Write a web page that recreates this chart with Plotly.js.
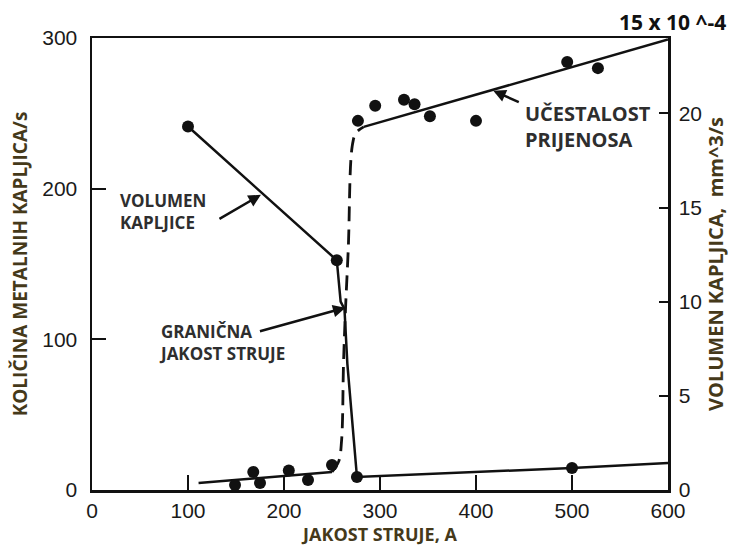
<!DOCTYPE html>
<html>
<head>
<meta charset="utf-8">
<script src="https://cdn.plot.ly/plotly-3.0.1.min.js"></script>
<style>html,body{margin:0;padding:0;background:#fff;}#chart{width:732px;height:549px;}</style>
</head>
<body>
<div id="chart"></div>
<script>
// Current (A)
const freqLowX = [111, 250];
const freqLowY = [4.6, 12];
const freqJumpX = [250, 257, 260, 262, 264, 267, 271, 275, 283];
const freqJumpY = [12, 19, 33, 84, 119, 161, 228, 237, 241];
const freqHighX = [283, 600];
const freqHighY = [241, 299];
const freqPointsX = [149, 168, 175, 205, 225, 250, 277, 295, 325, 336, 352, 400, 495, 527];
const freqPointsY = [3.3, 12, 4.6, 13, 6.6, 16.6, 245, 255, 259, 256, 248, 245, 284, 280];
// Drop volume (right axis)
const volLineX = [100, 255, 259, 263, 266, 276, 500, 600];
const volLineY = [19.3, 12.2, 10.0, 9.6, 6.7, 0.69, 1.17, 1.44];
const volPointsX = [100, 255, 276, 500];
const volPointsY = [19.3, 12.2, 0.69, 1.17];
const xTicks = [0, 100, 200, 300, 400, 500, 600];
const yTicks = [0, 100, 200, 300];
const y2Ticks = [0, 5, 10, 15, 20];

const black = '#111';
const titleColor = '#45391a';
const annColor = '#2e2e2e';
const tickFont = {family: 'Liberation Sans, Arial, sans-serif', size: 21, color: '#1a1a1a'};
const titleFont = {family: 'Open Sans, sans-serif', size: 18, color: titleColor, weight: 'bold'};
const yTitleFont = {family: 'Open Sans, sans-serif', size: 19, color: titleColor, weight: 'bold'};
const y2TitleFont = {family: 'Open Sans, sans-serif', size: 20, color: titleColor, weight: 'bold'};
const annFont = {family: 'Open Sans, sans-serif', size: 17, color: annColor, weight: 'bold'};
const bigAnnFont = {family: 'Open Sans, sans-serif', size: 20, color: annColor, weight: 'bold'};

const traces = [
  {x: freqLowX, y: freqLowY, mode: 'lines', line: {color: black, width: 2.5}, xaxis: 'x', yaxis: 'y'},
  {x: freqJumpX, y: freqJumpY, mode: 'lines', line: {color: black, width: 2.8, dash: '15px,8px', shape: 'spline'}, xaxis: 'x', yaxis: 'y'},
  {x: freqHighX, y: freqHighY, mode: 'lines', line: {color: black, width: 2.5}, xaxis: 'x', yaxis: 'y'},
  {x: freqPointsX, y: freqPointsY, mode: 'markers', marker: {color: black, size: 12}, xaxis: 'x', yaxis: 'y'},
  {x: volLineX, y: volLineY, mode: 'lines', line: {color: black, width: 2.5}, xaxis: 'x', yaxis: 'y2'},
  {x: volPointsX, y: volPointsY, mode: 'markers', marker: {color: black, size: 12}, xaxis: 'x', yaxis: 'y2'}
];

const layout = {
  width: 732, height: 549,
  margin: {l: 92, r: 64, t: 38, b: 59},
  paper_bgcolor: '#fff', plot_bgcolor: '#fff',
  showlegend: false,
  xaxis: {
    range: [0, 600], tickvals: xTicks, ticks: 'inside', ticklen: 15, tickwidth: 2, tickcolor: black,
    showline: true, linewidth: 2.5, linecolor: black, mirror: true,
    showgrid: false, zeroline: false, tickfont: tickFont,
    title: {text: 'JAKOST STRUJE, A', font: titleFont, standoff: 4}
  },
  xaxis2: {
    overlaying: 'x', side: 'top', anchor: 'y', range: [0, 600], tickvals: [100, 500],
    ticks: 'inside', ticklen: 14, tickwidth: 2, tickcolor: black, showticklabels: false,
    showline: false, showgrid: false, zeroline: false
  },
  yaxis: {
    range: [0, 300], tickvals: yTicks, ticks: 'inside', ticklen: 14, tickwidth: 2, tickcolor: black,
    showline: true, linewidth: 2.5, linecolor: black, mirror: true,
    showgrid: false, zeroline: false, tickfont: tickFont, ticklabelstandoff: 8,
    title: {text: 'KOLIČINA METALNIH KAPLJICA/s', font: yTitleFont, standoff: 10}
  },
  yaxis2: {
    overlaying: 'y', side: 'right', anchor: 'x', range: [0, 24], tickvals: y2Ticks,
    ticks: 'inside', ticklen: 9, tickwidth: 2, tickcolor: black,
    showline: true, linewidth: 2.5, linecolor: black,
    showgrid: false, zeroline: false, tickfont: tickFont, ticklabelstandoff: 4,
    title: {text: 'VOLUMEN KAPLJICA,&nbsp; mm^3/s', font: y2TitleFont, standoff: 6}
  },
  annotations: [
    {xref: 'x', yref: 'y', x: 27, y: 185, text: 'VOLUMEN<br>KAPLJICE', showarrow: false, xanchor: 'left', yanchor: 'middle', align: 'left', font: annFont},
    {xref: 'x', yref: 'y', x: 176, y: 196, text: '', showarrow: true, ax: -43, ay: 25, arrowhead: 2, arrowsize: 1, arrowwidth: 2.5, arrowcolor: black},
    {xref: 'x', yref: 'y', x: 68, y: 98, text: 'GRANIČNA<br>JAKOST STRUJE', showarrow: false, xanchor: 'left', yanchor: 'middle', align: 'left', font: annFont},
    {xref: 'x', yref: 'y', x: 264, y: 121, text: '', showarrow: true, ax: -87, ay: 24, arrowhead: 2, arrowsize: 1, arrowwidth: 2.5, arrowcolor: black},
    {xref: 'x', yref: 'y', x: 449, y: 241.5, text: 'UČESTALOST<br>PRIJENOSA', showarrow: false, xanchor: 'left', yanchor: 'middle', align: 'left', font: bigAnnFont},
    {xref: 'x', yref: 'y', x: 418, y: 265, text: '', showarrow: true, ax: 27, ay: 12, arrowhead: 2, arrowsize: 1, arrowwidth: 2.5, arrowcolor: black},
    {xref: 'paper', yref: 'paper', x: 1.008, y: 1.035, text: '15 x 10 ^-4', showarrow: false, xanchor: 'center', yanchor: 'middle', font: {family: 'Open Sans, sans-serif', size: 21, color: '#111', weight: 'bold'}}
  ]
};

Plotly.newPlot('chart', traces, layout, {displayModeBar: false, staticPlot: true});
</script>
</body>
</html>
